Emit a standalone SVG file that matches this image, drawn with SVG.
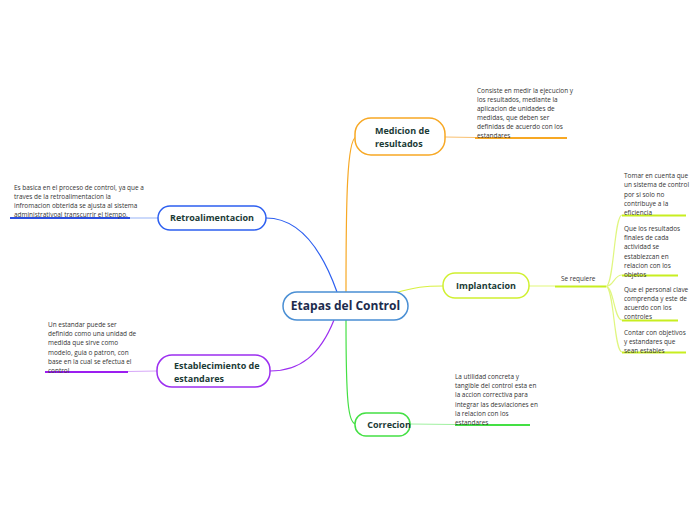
<svg xmlns="http://www.w3.org/2000/svg" width="696" height="520" viewBox="0 0 696 520">
<style>
.node{fill:#fff;stroke-width:1.5}
.lbl{font-family:"Open Sans","Liberation Sans",sans-serif;font-weight:bold;fill:#1b3b36;font-size:9px}
.txt{font-family:"Open Sans","Liberation Sans",sans-serif;fill:#333;font-size:6.45px}
.c{fill:none;stroke-width:1.2}
.u{fill:none;stroke-width:2}
</style>
<rect width="696" height="520" fill="#fff"/>
<g id="connectors">
<path class="c" stroke="#2d5ff0" d="M266,218 C300,218 322,250 337,292"/>
<path class="c" stroke="#f7a824" d="M346,292 C346,200 347,140 356,137"/>
<path class="c" stroke="#d8f040" d="M395,293 C415,287 425,286 443,286"/>
<path class="c" stroke="#9c2ef0" d="M334,320 C320,355 300,371 270,371"/>
<path class="c" stroke="#44e044" d="M346,320 C346,400 348,424 356,424"/>
<path class="c" stroke="#a9c0f8" d="M158,218 L130,218"/>
<path class="u" stroke="#2d4fe0" d="M130,218 L10,218"/>
<path class="c" stroke="#f9c070" d="M445,137 L475,137.5"/>
<path class="u" stroke="#f7a824" d="M475,138 L567,138"/>
<path class="c" stroke="#d7a8f8" d="M157,371 L128,371.5"/>
<path class="u" stroke="#9c1ef0" d="M128,372 L45,372"/>
<path class="c" stroke="#a0f0a0" d="M410,424 L455,424.5"/>
<path class="u" stroke="#44e044" d="M455,425 L530,425"/>
<path class="c" stroke="#e6f890" d="M529,286 L555,286"/>
<path class="u" stroke="#c8ee20" d="M555,286.5 L606,286.5"/>
<path class="c" stroke="#e0f680" d="M606,286.5 C614,286 614,215 622,215"/>
<path class="c" stroke="#e0f680" d="M606,286.5 C614,286 614,275 622,275"/>
<path class="c" stroke="#e0f680" d="M606,286.5 C614,287 614,320 622,320"/>
<path class="c" stroke="#e0f680" d="M606,286.5 C614,287 614,352 622,352"/>
<path class="u" stroke="#c8ee20" d="M622,215.5 L686,215.5"/>
<path class="u" stroke="#c8ee20" d="M622,275.5 L678,275.5"/>
<path class="u" stroke="#c8ee20" d="M622,320.5 L678,320.5"/>
<path class="u" stroke="#c8ee20" d="M622,352.5 L686,352.5"/>
</g>
<g id="central">
<rect class="node" x="283" y="292" width="125" height="28" rx="14" stroke="#4a8fd4"/>
<text x="345.5" y="310" text-anchor="middle" style="font-family:'Open Sans','Liberation Sans',sans-serif;font-weight:bold;font-size:12px;fill:#1c2b4d">Etapas del Control</text>
</g>
<g id="medicion">
<rect class="node" x="355" y="118" width="90" height="37" rx="16" stroke="#f7a824"/>
<text class="lbl" x="375" y="134">Medicion de</text>
<text class="lbl" x="375" y="147">resultados</text>
<text class="txt" x="477"><tspan x="477" y="93">Consiste en medir la ejecucion y</tspan><tspan x="477" y="102">los resultados, mediante la</tspan><tspan x="477" y="111">aplicacion de unidades de</tspan><tspan x="477" y="120">medidas, que deben ser</tspan><tspan x="477" y="129">definidas de acuerdo con los</tspan><tspan x="477" y="138">estandares</tspan></text>
</g>
<g id="retro">
<rect class="node" x="158" y="206" width="108" height="24" rx="12" stroke="#2d5ff0"/>
<text class="lbl" x="212" y="221" text-anchor="middle">Retroalimentacion</text>
<text class="txt"><tspan x="14" y="190">Es basica en el proceso de control, ya que a</tspan><tspan x="14" y="199">traves de la retroalimentacion la</tspan><tspan x="14" y="208">infromacion obterida se ajusta al sistema</tspan><tspan x="14" y="217">administrativoal transcurrir el tiempo.</tspan></text>
</g>
<g id="establecimiento">
<rect class="node" x="157" y="355" width="113" height="32" rx="15" stroke="#9c2ef0"/>
<text class="lbl" x="174" y="369">Establecimiento de</text>
<text class="lbl" x="174" y="382">estandares</text>
<text class="txt"><tspan x="48" y="327">Un estandar puede ser</tspan><tspan x="48" y="336">definido como una unidad de</tspan><tspan x="48" y="345">medida que sirve como</tspan><tspan x="48" y="355">modelo, guia o patron, con</tspan><tspan x="48" y="364">base en la cual se efectua el</tspan><tspan x="48" y="373">control</tspan></text>
</g>
<g id="correcion">
<rect class="node" x="355" y="413" width="55" height="23" rx="11" stroke="#44e044"/>
<text class="lbl" x="389" y="428" text-anchor="middle">Correcion</text>
<text class="txt"><tspan x="455" y="379">La utilidad concreta y</tspan><tspan x="455" y="388">tangible del control esta en</tspan><tspan x="455" y="397">la accion correctiva para</tspan><tspan x="455" y="407">integrar las desviaciones en</tspan><tspan x="455" y="416">la relacion con los</tspan><tspan x="455" y="425">estandares</tspan></text>
</g>
<g id="implantacion">
<rect class="node" x="443" y="273" width="86" height="25" rx="12" stroke="#d0f030"/>
<text class="lbl" x="486" y="289" text-anchor="middle">Implantacion</text>
<text class="txt" x="561" y="281">Se requiere</text>
</g>
<g id="sub1">
<text class="txt"><tspan x="624" y="178">Tomar en cuenta que</tspan><tspan x="624" y="187">un sistema de control</tspan><tspan x="624" y="197">por si solo no</tspan><tspan x="624" y="206">contribuye a la</tspan><tspan x="624" y="215">eficiencia</tspan></text>
</g>
<g id="sub2">
<text class="txt"><tspan x="624" y="231">Que los resultados</tspan><tspan x="624" y="240">finales de cada</tspan><tspan x="624" y="249">actividad se</tspan><tspan x="624" y="259">establezcan en</tspan><tspan x="624" y="268">relacion con los</tspan><tspan x="624" y="277">objetos</tspan></text>
</g>
<g id="sub3">
<text class="txt"><tspan x="624" y="292">Que el personal clave</tspan><tspan x="624" y="301">comprenda y este de</tspan><tspan x="624" y="310">acuerdo con los</tspan><tspan x="624" y="319">controles</tspan></text>
</g>
<g id="sub4">
<text class="txt"><tspan x="624" y="335">Contar con objetivos</tspan><tspan x="624" y="344">y estandares que</tspan><tspan x="624" y="353">sean estables</tspan></text>
</g>
</svg>
